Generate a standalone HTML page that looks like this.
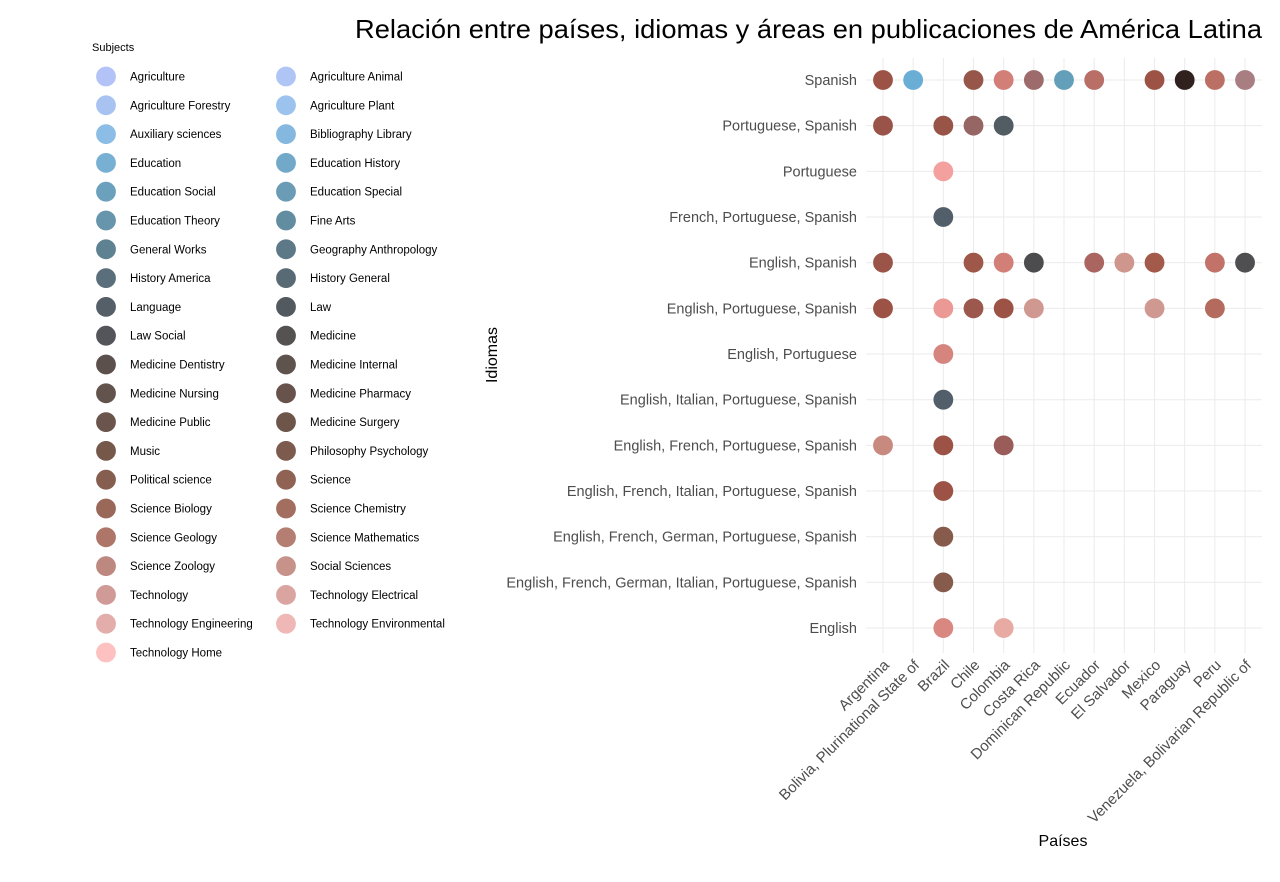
<!DOCTYPE html>
<html><head><meta charset="utf-8"><style>
html,body{margin:0;padding:0;background:#fff;}
svg{display:block;font-family:"Liberation Sans",sans-serif;}
</style></head><body>
<svg id="chart" width="1280" height="882" viewBox="0 0 1280 882">
<text x="355" y="38" font-size="26" textLength="907" lengthAdjust="spacingAndGlyphs" fill="#000">Relación entre países, idiomas y áreas en publicaciones de América Latina</text>
<g id="grid"></g>
<g id="ylabels"></g>
<g id="xlabels"></g>
<g id="points"></g>
<text x="1063" y="846" font-size="16" text-anchor="middle" fill="#000">Países</text>
<text transform="translate(497,355) rotate(-90)" font-size="16" text-anchor="middle" fill="#000">Idiomas</text>
<g id="legend">
<text x="92" y="51" font-size="11" fill="#000">Subjects</text>
</g>
</svg>
<script>
const countries = ["Argentina","Bolivia, Plurinational State of","Brazil","Chile","Colombia","Costa Rica","Dominican Republic","Ecuador","El Salvador","Mexico","Paraguay","Peru","Venezuela, Bolivarian Republic of"];
const languages = ["Spanish","Portuguese, Spanish","Portuguese","French, Portuguese, Spanish","English, Spanish","English, Portuguese, Spanish","English, Portuguese","English, Italian, Portuguese, Spanish","English, French, Portuguese, Spanish","English, French, Italian, Portuguese, Spanish","English, French, German, Portuguese, Spanish","English, French, German, Italian, Portuguese, Spanish","English"];
const subjects = ["Agriculture","Agriculture Animal","Agriculture Forestry","Agriculture Plant","Auxiliary sciences","Bibliography Library","Education","Education History","Education Social","Education Special","Education Theory","Fine Arts","General Works","Geography Anthropology","History America","History General","Language","Law","Law Social","Medicine","Medicine Dentistry","Medicine Internal","Medicine Nursing","Medicine Pharmacy","Medicine Public","Medicine Surgery","Music","Philosophy Psychology","Political science","Science","Science Biology","Science Chemistry","Science Geology","Science Mathematics","Science Zoology","Social Sciences","Technology","Technology Electrical","Technology Engineering","Technology Environmental","Technology Home"];
const subjectColors = ["#b3c3f7","#afc5f5","#a8c2f2","#9cc2ee","#8cbde6","#84b8df","#78b0d4","#72a9c9","#6ca1be","#6a9cb5","#6795ab","#628ca0","#5f8292","#5d7886","#5a6f7b","#586a74","#555f68","#535a5f","#53555a","#575252","#5c504d","#5f534e","#63534d","#67534b","#6b544b","#6e554a","#76584b","#7c5a4e","#865e50","#8f6253","#9a6859","#a36e5f","#ad7668","#b47e72","#bd8880","#c6928a","#d09a96","#daa4a1","#e3adab","#efb7b6","#fcc1c0"];
const pointCountry = [0,1,3,4,5,6,7,9,10,11,12, 0,2,3,4, 2, 2, 0,3,4,5,7,8,9,11,12, 0,2,3,4,5,9,11, 2, 2, 0,2,4, 2, 2, 2, 2,4];
const pointLanguage = [0,0,0,0,0,0,0,0,0,0,0, 1,1,1,1, 2, 3, 4,4,4,4,4,4,4,4,4, 5,5,5,5,5,5,5, 6, 7, 8,8,8, 9, 10, 11, 12,12];
const pointColor = ["#9c5346","#6aaed6","#97564a","#d27f78","#9d6b6b","#639fb8","#b96e66","#9c5346","#30211f","#bc6f65","#a97e83",
 "#9a5348","#985447","#966664","#515d63","#f4a09e","#525f6a",
 "#9b5448","#9e5749","#d27f78","#4c4c4e","#ab6560","#cf968e","#a45a4a","#c27268","#4f4f51",
 "#9c5346","#eb9994","#9c584d","#9c5346","#cf9890","#cf9890","#b46b5e",
 "#d6847e","#525f6a","#c8897f","#9c5346","#9a5c58","#9c5346","#875b4b","#875b4b","#d88881","#e8aba4"];

const NS="http://www.w3.org/2000/svg";
const x0=866,x1=1262,y0=58,y1=653;
function xScale(i){return 883+i*30.17;}
function yScale(j){return 80+j*45.67;}
function mk(tag,attrs,parent){const e=document.createElementNS(NS,tag);for(const k in attrs)e.setAttribute(k,attrs[k]);parent.appendChild(e);return e;}
const grid=document.getElementById('grid');
countries.forEach((c,i)=>{
  const l=mk('line',{x1:xScale(i),x2:xScale(i),y1:y0,y2:y1,stroke:'#ebebeb','stroke-width':1},grid);
  
  
});
languages.forEach((c,j)=>{
  const l=mk('line',{x1:x0,x2:x1,y1:yScale(j),y2:yScale(j),stroke:'#ebebeb','stroke-width':1},grid);
  
  
});
const yl=document.getElementById('ylabels');
languages.forEach((c,j)=>{
  const t=mk('text',{x:857,y:yScale(j)+5,'font-size':14.5,'text-anchor':'end',fill:'#4d4d4d'},yl);
  t.textContent=c;
  
  
});
const xl=document.getElementById('xlabels');
countries.forEach((c,i)=>{
  const t=mk('text',{transform:`translate(${xScale(i)+7},${666}) rotate(-45)`,'font-size':15,'text-anchor':'end',fill:'#4d4d4d'},xl);
  t.textContent=c;
  
  
});
const pts=document.getElementById('points');
pointCountry.forEach((ci,k)=>{
  const c=mk('circle',{cx:xScale(ci),cy:yScale(pointLanguage[k]),r:9.5,fill:pointColor[k],stroke:pointColor[k],'stroke-width':0.8},pts);
  
  
});
const lg=document.getElementById('legend');
subjects.forEach((s,k)=>{
  const col=k%2,row=Math.floor(k/2);
  const cx=col?286:106, cy=76.5+row*28.8;
  const c=mk('circle',{cx:cx,cy:cy,r:9.5,fill:subjectColors[k],stroke:subjectColors[k],'stroke-width':0.8},lg);
  
  
  const t=mk('text',{x:cx+24,y:cy+4,'font-size':11.5,fill:'#000'},lg);
  t.textContent=s;
  
  
});
</script>
</body></html>
